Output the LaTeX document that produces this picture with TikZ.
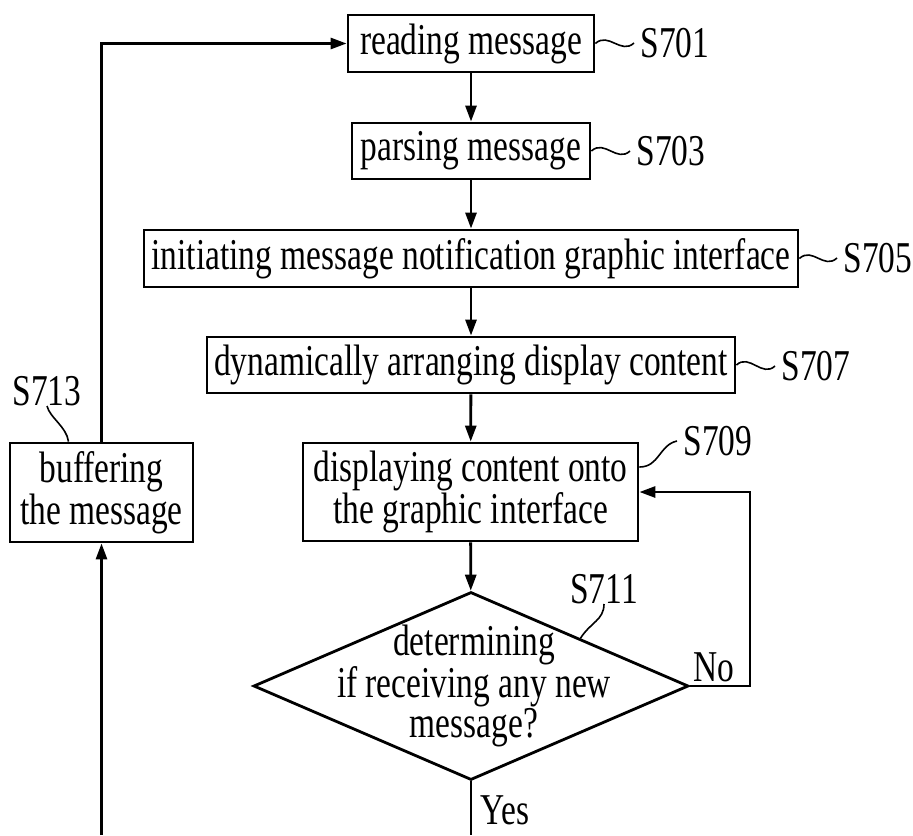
\documentclass[tikz,border=0pt]{standalone}
\usepackage{fontspec}
\setmainfont{Liberation Serif}[FakeStretch=0.76]
\usetikzlibrary{shapes.geometric}
\usetikzlibrary{arrows.meta}

\begin{document}
\begin{tikzpicture}[
  x=0.5pt, y=-0.5pt,
  every node/.style={font=\fontsize{22}{20}\selectfont},
  box/.style={rectangle,draw,line width=1.4pt,minimum height=28.5pt,inner xsep=3pt,align=center},
  flow/.style={line width=1.4pt,-{Triangle[length=8pt,width=5.5pt]}},
  lead/.style={line width=0.8pt},
  tag/.style={inner xsep=3pt,inner ysep=0pt}]
\useasboundingbox (0,0) rectangle (913,835);
\node[box,minimum width=123pt] (read) at (471,43.5) {reading message};
\node[box,minimum width=119pt,minimum height=28pt] (parse) at (471,151) {parsing message};
\node[box,minimum width=327pt] (init) at (471,258.5) {initiating message notification graphic interface};
\node[box,minimum width=264pt,minimum height=28pt] (dyn) at (471,365) {dynamically arranging display content};
\node[box,minimum width=167.5pt,minimum height=49pt] (disp) at (470.5,492) {displaying content onto\\the graphic interface};
\node[diamond,draw,line width=1.4pt,minimum width=217.5pt,minimum height=94pt,inner sep=0pt] (dec) at (471,686) {};
\node[align=center] (dectext) at (474,686) {determining\\if receiving any new\\message?};
\node[box,minimum width=91.5pt,minimum height=49.5pt] (buf) at (101.5,492.5) {buffering\\the message};
\coordinate (yesend) at (471,835);
\coordinate (bufend) at (101.5,835);
% step numbers
\node[tag,anchor=west] (s701) at (634,43) {S701};
\node[tag,anchor=west] (s703) at (630,151) {S703};
\node[tag,anchor=west] (s705) at (837,258) {S705};
\node[tag,anchor=west] (s707) at (775,366) {S707};
\node[tag,anchor=west] (s709) at (677,441) {S709};
\node[tag,anchor=south] (s711) at (604,604) {S711};
\node[tag,anchor=south] (s713) at (47,406) {S713};
\node (no) at (714,667) {No};
\node[anchor=west,inner xsep=3pt] (yes) at (474,810) {Yes};
% flow
\draw[flow] (read) -- (parse);
\draw[flow] (parse) -- (init);
\draw[flow] (init) -- (dyn);
\draw[flow] (dyn) -- (disp);
\draw[flow] (disp) -- (dec);
\draw[flow] (dec.east) -- ++(60,0) |- (disp.east);
\draw[line width=1.4pt] (dec.south) -- (yesend);
\draw[flow] (bufend) -- (buf.south);
\draw[flow] (buf.north) |- (read.west);
% leaders
\draw[lead] (read.east) .. controls +(13,-12) and +(-13,12) .. (s701.west);
\draw[lead] (parse.east) .. controls +(13,-12) and +(-13,12) .. (s703.west);
\draw[lead] (init.east) .. controls +(13,-12) and +(-13,12) .. (s705.west);
\draw[lead] (dyn.east) .. controls +(13,-12) and +(-13,12) .. (s707.west);
\draw[lead] ([yshift=12.5pt]disp.east) .. controls +(20,0) and +(-18,4) .. (s709.west);
\draw[lead] (dec.north east) .. controls +(10,-16) and +(0,16) .. (s711.south);
\draw[lead] ([xshift=-16.5pt]buf.north) .. controls +(-2,-15) and +(3,12) .. (s713.south);
\end{tikzpicture}
\end{document}
